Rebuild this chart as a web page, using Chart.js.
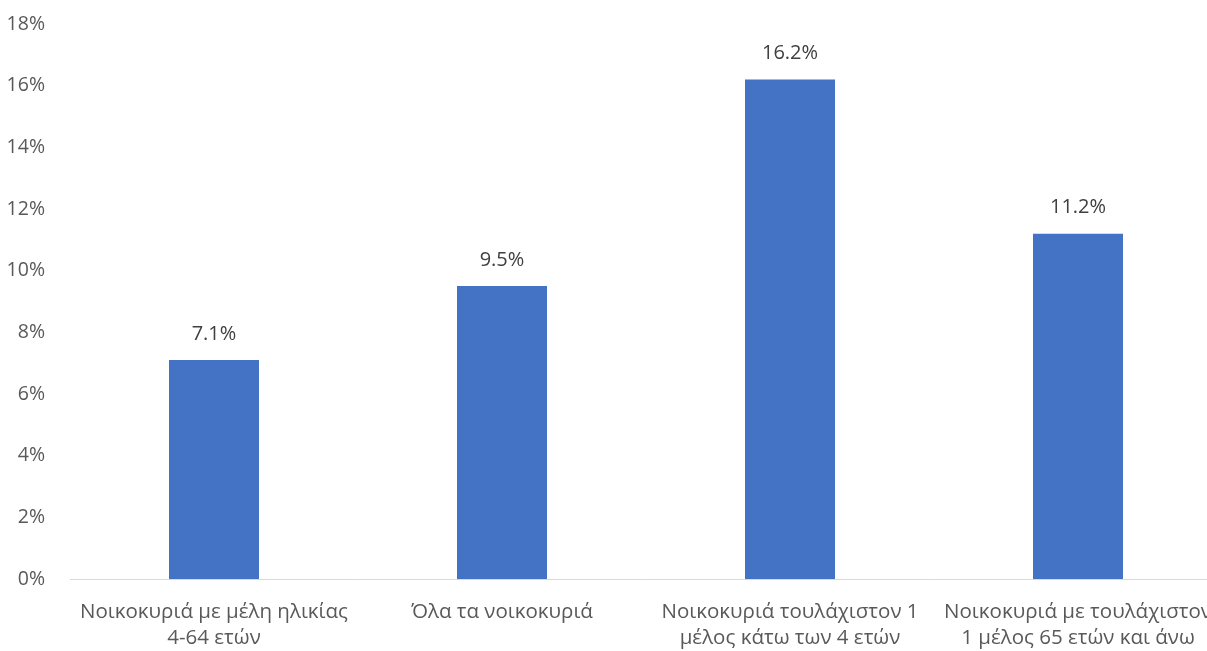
<!DOCTYPE html>
<html><head><meta charset="utf-8">
<script src="https://cdn.jsdelivr.net/npm/chart.js@4"></script>
<style>html,body{margin:0;padding:0;overflow:hidden;background:#fff}#wrap{width:1240px;height:651px;position:relative}</style>
</head><body><div id="wrap"><canvas id="c"></canvas></div>
<script>
const categories = [
  ["Νοικοκυριά με μέλη ηλικίας","4-64 ετών"],
  ["Όλα τα νοικοκυριά"],
  ["Νοικοκυριά τουλάχιστον 1","μέλος κάτω των 4 ετών"],
  ["Νοικοκυριά με τουλάχιστον","1 μέλος 65 ετών και άνω"]
];
const values = [7.1, 9.5, 16.2, 11.2];
const yMin = 0, yMax = 18, yStep = 2;

const FONT = "'Open Sans', sans-serif";
const labelPlugin = {
  id: 'vlabels',
  afterDatasetsDraw(chart) {
    const ctx = chart.ctx;
    const meta = chart.getDatasetMeta(0);
    ctx.save();
    ctx.font = "20px " + FONT;
    ctx.fillStyle = "#404040";
    ctx.textAlign = "center";
    ctx.textBaseline = "middle";
    meta.data.forEach((bar, i) => {
      ctx.fillText(values[i].toFixed(1) + "%", bar.x, bar.y - 26);
    });
    ctx.restore();
  }
};

new Chart(document.getElementById('c'), {
  type: 'bar',
  data: { labels: categories, datasets: [{ data: values, backgroundColor: '#4472C4', barPercentage: 0.625, categoryPercentage: 0.5 }] },
  options: {
    responsive: true, maintainAspectRatio: false, animation: false,
    layout: { padding: { top: 24, right: 18, left: 0, bottom: 0 } },
    plugins: { legend: { display: false }, tooltip: { enabled: false } },
    scales: {
      x: {
        grid: { display: false },
        border: { color: '#d9d9d9', width: 1 },
        ticks: { color: '#595959', font: { family: FONT, size: 20.5, lineHeight: 1.27 }, padding: 12, maxRotation: 0, autoSkip: false },
        afterFit(s) { s.height = 72; s.paddingLeft = 0; s.paddingRight = 0; }
      },
      y: {
        min: yMin, max: yMax,
        grid: { display: false },
        border: { display: false },
        ticks: { stepSize: yStep, color: '#595959', font: { family: FONT, size: 19.5 }, padding: 17, callback: v => v + '%' },
        afterFit(s) { s.width = 70; s.paddingTop = 0; s.paddingBottom = 0; }
      }
    }
  },
  plugins: [labelPlugin]
});
</script></body></html>
